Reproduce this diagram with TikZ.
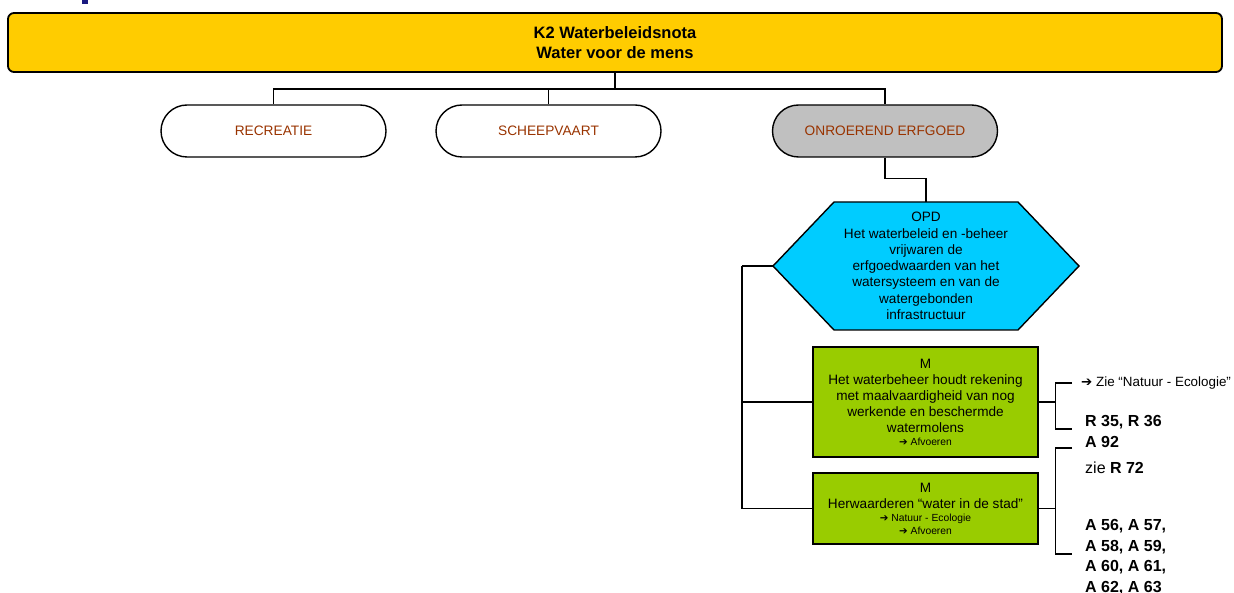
\documentclass[tikz,border=0pt]{standalone}
\usepackage{fontspec}
\setmainfont{Liberation Sans}
\newfontfamily\dingfont{DejaVu Sans}
\usetikzlibrary{shapes.misc,calc}
\definecolor{titlegold}{HTML}{FFCC00}
\definecolor{themebrown}{HTML}{993300}
\definecolor{themegray}{HTML}{C0C0C0}
\definecolor{goalcyan}{HTML}{00CCFF}
\definecolor{measuregreen}{HTML}{99CC00}
\definecolor{markblue}{HTML}{1A1A80}
\newcommand\goarrow{{\dingfont\char"2794}}
\newcommand\smalltxt{\fontsize{10.3}{12}\selectfont}

\begin{document}
\begin{tikzpicture}[x=1pt,y=-1pt,
  link/.style={draw=black,line width=1.4pt},
  titlebox/.style={draw=black,line width=1.8pt,fill=titlegold,rounded corners=6pt,
    minimum width=1214pt,minimum height=59pt,align=center,inner sep=0pt,
    font=\fontsize{16.5}{19.5}\selectfont\bfseries},
  theme/.style={rounded rectangle,draw=black,line width=1.4pt,minimum width=225pt,
    minimum height=52pt,text=themebrown,inner sep=0pt,font=\fontsize{13.7}{16}\selectfont},
  goaltext/.style={align=center,inner sep=0pt,font=\fontsize{13.6}{16.3}\selectfont},
  measure/.style={draw=black,line width=1.4pt,fill=measuregreen,minimum width=225pt,
    align=center,inner sep=0pt,font=\fontsize{13.6}{16}\selectfont},
  seealso/.style={anchor=west,inner sep=0pt,font=\fontsize{13.4}{15}\selectfont},
  refs/.style={anchor=west,inner sep=0pt,align=left,font=\fontsize{16}{20.7}\selectfont\bfseries},
  ]
\useasboundingbox (0,0) rectangle (1234,593);
\clip (0,0) rectangle (1234,593);

% small mark at the top edge
\fill[markblue] (82,0) rectangle (88,4);

% title bar
\node[titlebox] (k2) at (615,42.5) {K2 Waterbeleidsnota\\Water voor de mens};

% themes
\node[theme] (rec) at (273.5,131) {RECREATIE};
\node[theme] (sch) at (548.5,131) {SCHEEPVAART};
\node[theme,fill=themegray] (onr) at (885,131) {ONROEREND ERFGOED};

\draw[link] (k2.south) -- ++(0,16) coordinate (j);
\draw[link] (rec.north) |- (j) -| (onr.north);
\draw[link] (sch.north) -- (sch.north |- j);

% objective (hexagon)
\coordinate (hc) at (926,266);
\draw[link,fill=goalcyan]
  ($(hc)+(-153,0)$) coordinate (hl) -- ($(hc)+(-92,-64)$) -- ($(hc)+(92,-64)$)
  -- ($(hc)+(153,0)$) -- ($(hc)+(92,64)$) -- ($(hc)+(-92,64)$) -- cycle;
\coordinate (ht) at ($(hc)+(0,-64)$);
\node[goaltext] (opd) at (hc) {OPD\\Het waterbeleid en -beheer\\vrijwaren de\\erfgoedwaarden van het\\watersysteem en van de\\watergebonden\\infrastructuur};

\draw[link] (onr.south) -- ++(0,21) -| (ht);

% measures
\node[measure,minimum height=110pt] (m1) at (925.5,402) {M\\Het waterbeheer houdt rekening\\met maalvaardigheid van nog\\werkende en beschermde\\watermolens\\[-3pt]{\smalltxt\goarrow{} Afvoeren}};
\node[measure,minimum height=71pt] (m2) at (925.5,508.5) {M\\Herwaarderen “water in de stad”\\[-3pt]{\smalltxt\goarrow{} Natuur - Ecologie}\\[-3pt]{\smalltxt\goarrow{} Afvoeren}};

\draw[link] (hl) -- ++(-31,0) coordinate (sp);
\draw[link] (sp) |- (m2.west);
\draw[link] (sp |- m1.west) -- (m1.west);

% references
\node[seealso] (zie1) at (1081,383) {\goarrow{} Zie “Natuur - Ecologie”};
\node[refs] (r1) at (1085,431.5) {R 35, R 36\\A 92};
\node[refs,font=\fontsize{16}{20.7}\selectfont] (z2) at (1085,468) {zie \textbf{R 72}};
\node[refs] (a2) at (1085,557) {A 56, A 57,\\A 58, A 59,\\A 60, A 61,\\A 62, A 63};

\coordinate (t1) at (1072,383);
\coordinate (t2) at (1072,429);
\coordinate (t3) at (1072,448);
\coordinate (t4) at (1072,554);
\draw[link] (m1.east) -- ++(17,0) coordinate (b1);
\draw[link] (t1) -| (b1) |- (t2);
\draw[link] (m2.east) -- ++(17,0) coordinate (b2);
\draw[link] (t3) -| (b2) |- (t4);
\end{tikzpicture}
\end{document}
